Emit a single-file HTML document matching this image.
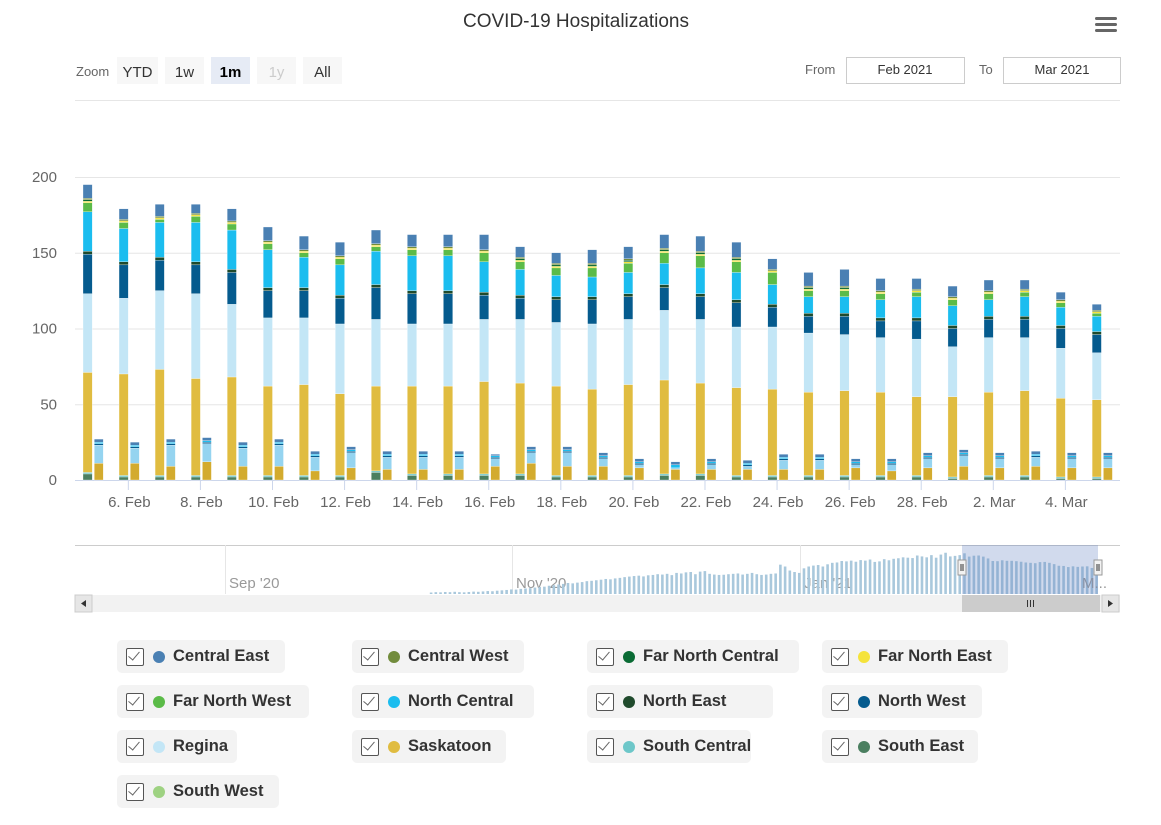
<!DOCTYPE html>
<html><head><meta charset="utf-8"><style>
body{margin:0;background:#fff;font-family:"Liberation Sans",sans-serif;}
#wrap{position:relative;width:1161px;height:825px;overflow:hidden;}
.leg{position:absolute;height:33px;background:#f3f3f3;border-radius:5px;display:flex;align-items:center;font-size:16.5px;color:#333;font-weight:bold;white-space:nowrap;}
.leg .cb{flex-shrink:0;width:16px;height:16px;border:1.5px solid #555;border-radius:2px;margin-left:9px;margin-right:9px;position:relative;background:#fff;}
.leg .cb:after{content:"";position:absolute;left:4px;top:0px;width:5px;height:10px;border-right:1.5px solid #666;border-bottom:1.5px solid #666;transform:rotate(40deg);}
.leg .dot{flex-shrink:0;width:12px;height:12px;border-radius:50%;margin-right:8px;}
.leg span{padding-right:10px;}
</style></head><body>
<div id="wrap">
<svg id="svg" width="1161" height="625" style="position:absolute;left:0;top:0">
<text x="576" y="27" text-anchor="middle" font-size="19" fill="#333">COVID-19 Hospitalizations</text>
<g><rect x="1095" y="17" width="22" height="3" rx="1.5" fill="#666"/><rect x="1095" y="23" width="22" height="3" rx="1.5" fill="#666"/><rect x="1095" y="29" width="22" height="3" rx="1.5" fill="#666"/></g>
<text x="76" y="76" font-size="13" fill="#666">Zoom</text>
<g><rect x="117" y="57" width="41" height="27" fill="#f7f7f7"/><text x="137.5" y="77" text-anchor="middle" font-size="15" fill="#333">YTD</text></g>
<g><rect x="165" y="57" width="39" height="27" fill="#f7f7f7"/><text x="184.5" y="77" text-anchor="middle" font-size="15" fill="#333">1w</text></g>
<g><rect x="211" y="57" width="39" height="27" fill="#e6ebf5"/><text x="230.5" y="77" text-anchor="middle" font-size="15" font-weight="bold" fill="#000">1m</text></g>
<g><rect x="257" y="57" width="39" height="27" fill="#f7f7f7"/><text x="276.5" y="77" text-anchor="middle" font-size="15" fill="#ccc">1y</text></g>
<g><rect x="303" y="57" width="39" height="27" fill="#f7f7f7"/><text x="322.5" y="77" text-anchor="middle" font-size="15" fill="#333">All</text></g>
<text x="805" y="74" font-size="13" fill="#666">From</text>
<g><rect x="846.5" y="57.5" width="118" height="26" fill="#fff" stroke="#ccc"/><text x="905" y="74" text-anchor="middle" font-size="13" fill="#333">Feb 2021</text></g>
<text x="979" y="74" font-size="13" fill="#666">To</text>
<g><rect x="1003.5" y="57.5" width="117" height="26" fill="#fff" stroke="#ccc"/><text x="1062" y="74" text-anchor="middle" font-size="13" fill="#333">Mar 2021</text></g>
<line x1="75" y1="100.5" x2="1120" y2="100.5" stroke="#e6e6e6"/>
<g id="grid"></g><g id="bars"></g><g id="xaxis"></g><g id="nav"></g>
</svg>
<div id="legend"></div>
</div>
<script>
const seriesNames=["Central East","Central West","Far North Central","Far North East","Far North West","North Central","North East","North West","Regina","Saskatoon","South Central","South East","South West"];
const seriesColors=["#4a80b3","#728c3c","#0a6b34","#f5e33b","#5bbb48","#1bbdef","#1f4a2c","#055b8e","#c3e6f6","#e0bc40","#6dc7c9","#4b7f60","#9ed282"];
const xTickLabels=["6. Feb","8. Feb","10. Feb","12. Feb","14. Feb","16. Feb","18. Feb","20. Feb","22. Feb","24. Feb","26. Feb","28. Feb","2. Mar","4. Mar"];
const yTicks=[0,50,100,150,200];
const swTall=[0,0,0,0,0,0,0,0,0,0,0,0,0,0,0,0,0,0,0,0,0,0,0,0,0,0,0,0,0];
const seTall=[4,2,2,2,2,2,2,2,5,3,3,3,3,2,2,2,3,3,2,2,2,2,2,2,1,2,2,1,1];
const scTall=[1,1,1,1,1,1,1,1,1,1,1,1,1,1,1,1,1,1,1,1,1,1,1,1,1,1,1,1,1];
const saskTall=[66,67,70,64,65,59,60,54,56,58,58,61,60,59,57,60,62,60,58,57,55,56,55,52,53,55,56,52,51];
const reginaTall=[52,50,52,56,48,45,44,46,44,41,41,41,42,42,43,43,46,42,40,41,39,37,36,38,33,36,35,33,31];
const nwTall=[26,22,20,19,21,18,18,17,21,20,20,16,14,15,16,15,15,15,16,13,11,12,11,12,12,12,12,13,12];
const neTall=[2,2,2,2,2,2,2,2,2,2,2,2,2,2,2,2,2,2,2,2,2,2,2,2,2,2,2,2,2];
const ncTall=[26,22,23,26,26,25,20,20,22,23,23,20,17,14,13,14,14,17,18,13,11,11,12,14,13,11,13,12,10];
const fnwTall=[6,4,2,4,4,4,3,4,3,4,4,6,5,5,6,6,7,8,7,8,4,4,4,3,4,4,3,3,2];
const fneTall=[1,1,1,1,1,1,1,1,1,1,1,1,1,1,1,1,1,1,1,1,1,1,1,1,1,1,1,1,1];
const fncTall=[1,0,0,0,0,0,0,0,0,0,0,0,1,1,1,1,1,1,1,0,1,1,0,0,0,0,0,0,0];
const cwTall=[1,1,1,1,1,1,1,1,1,1,1,1,1,1,1,1,1,1,1,1,1,1,1,1,1,1,1,1,1];
const ceTall=[9,7,8,6,8,9,9,9,9,8,8,10,7,7,9,8,9,10,10,7,9,11,8,7,7,7,6,5,4];
const saskIcu=[11,11,9,12,9,9,6,8,7,7,7,9,11,9,9,8,7,7,7,7,7,8,6,8,9,8,9,8,8];
const reginaIcu=[12,10,14,12,12,14,9,10,8,8,8,5,7,9,5,2,1,3,2,6,6,2,4,6,7,6,6,6,6];
const nwIcu=[1,1,1,1,1,1,1,1,1,1,1,1,1,1,1,1,0,1,1,1,1,1,1,1,1,1,1,1,1];
const ncIcu=[1,1,1,1,1,1,1,1,1,1,1,1,1,1,1,1,2,1,1,1,1,1,1,1,1,1,1,1,1];
const ceIcu=[2,2,2,2,2,2,2,2,2,2,2,1,2,2,2,2,2,2,2,2,2,2,2,2,2,2,2,2,2];
const navValues=[8,10,9,11,10,12,10,9,11,13,12,14,16,15,18,20,22,
25,24,28,30,32,35,38,40,45,48,52,55,60,58,62,65,70,72,75,78,82,80,85,88,92,95,98,100,96,102,
104,108,106,110,103,115,112,118,120,108,122,125,110,106,104,105,108,110,112,106,110,115,108,104,106,110,112,160,150,128,120,
115,140,150,155,158,150,162,170,172,180,178,182,176,185,182,188,175,178,190,184,192,195,200,198,196,210,205,200,212,198,215,
225,205,208,212];
const navLabels=["Sep '20","Nov '20","Jan '21","M..."];

const NS="http://www.w3.org/2000/svg";
function mk(tag,attrs,parent){const e=document.createElementNS(NS,tag);for(const k in attrs)e.setAttribute(k,attrs[k]);parent.appendChild(e);return e;}
const y0=480, pxPer=1.515;
const yScale=v=>y0-v*pxPer;
const xCenter=i=>92.3+i*36.04;
const grid=document.getElementById('grid');
yTicks.forEach(t=>{
  const l=mk('line',{x1:75,x2:1120,y1:yScale(t)+0.5,y2:yScale(t)+0.5,stroke:t===0?'#ccd6eb':'#e6e6e6'},grid);
  
  
  const tx=mk('text',{x:57,y:yScale(t)+5,'text-anchor':'end','font-size':15,fill:'#666'},grid);
  tx.textContent=t;
  
  
});
const tallSeries=[swTall,seTall,scTall,saskTall,reginaTall,nwTall,neTall,ncTall,fnwTall,fneTall,fncTall,cwTall,ceTall];
const tallIdx=[12,11,10,9,8,7,6,5,4,3,2,1,0];
const icuSeries=[saskIcu,reginaIcu,nwIcu,ncIcu,ceIcu];
const icuIdx=[9,8,7,5,0];
const bars=document.getElementById('bars');
for(let i=0;i<29;i++){
  const c=xCenter(i);
  let acc=0;
  tallSeries.forEach((s,k)=>{const v=s[i];if(v<=0)return;
    const r=mk('rect',{x:c-9.3,width:9.3,y:yScale(acc+v),height:v*pxPer,fill:seriesColors[tallIdx[k]],stroke:'#fff','stroke-width':0.3},bars);
    
    
    acc+=v;});
  acc=0;
  icuSeries.forEach((s,k)=>{const v=s[i];if(v<=0)return;
    const col=icuIdx[k]===8?'#95d4f0':icuIdx[k]===9?'#d3ab2e':seriesColors[icuIdx[k]];
    const r=mk('rect',{x:c+2,width:9,y:yScale(acc+v),height:v*pxPer,fill:col,stroke:'#fff','stroke-width':0.3},bars);
    
    
    acc+=v;});
}
const xa=document.getElementById('xaxis');
xTickLabels.forEach((lab,j)=>{const x=xCenter(1+2*j);
  const t=mk('line',{x1:x,x2:x,y1:480,y2:490,stroke:'#ccd6eb'},xa);
  
  
  const tx=mk('text',{x:x+1,y:507,'text-anchor':'middle','font-size':15,fill:'#666'},xa);
  tx.textContent=lab;
  
  
});
const nav=document.getElementById('nav');
const navTop=545,navBot=594,navScale=44/240;
const navX=i=>962+(i-112.5)*4.72;
const navFrame=mk('rect',{x:75,y:navTop,width:1045,height:navBot-navTop,fill:'#fff'},nav);


mk('line',{x1:75,x2:1120,y1:545.5,y2:545.5,stroke:'#cccccc'},nav);
[225,512,800].forEach((x,j)=>{mk('line',{x1:x+0.5,x2:x+0.5,y1:545,y2:594,stroke:'#e6e6e6'},nav);
  const tx=mk('text',{x:x+4,y:588,'font-size':15,fill:'#999'},nav);tx.textContent=navLabels[j];
  
  });
const allNav=navValues.slice();
for(let i=0;i<29;i++){let s=0;tallSeries.forEach(a=>s+=a[i]);icuSeries.forEach(a=>s+=a[i]);allNav.push(s);}
allNav.forEach((v,i)=>{const h=v*navScale;const r=mk('rect',{x:navX(i)-1.2,width:2.6,y:navBot-h,height:h,fill:'#a9c8dc'},nav);
  
  });
const lab4=mk('text',{x:1082,y:588,'font-size':15,fill:'#999'},nav);lab4.textContent=navLabels[3];


const mask=mk('rect',{x:962,y:545,width:136,height:49,fill:'rgba(102,133,194,0.3)'},nav);


[962,1098].forEach(x=>{const g=mk('g',{},nav);
  
  
  mk('rect',{x:x-4,y:560,width:8,height:15,fill:'#f2f2f2',stroke:'#999'},g);
  mk('line',{x1:x-1,x2:x-1,y1:564,y2:571,stroke:'#333'},g);mk('line',{x1:x+1,x2:x+1,y1:564,y2:571,stroke:'#333'},g);});
const sb=mk('rect',{x:75,y:595,width:1045,height:17,fill:'#f2f2f2'},nav);


const th=mk('rect',{x:962,y:595,width:138,height:17,fill:'#cccccc'},nav);


[1027,1030,1033].forEach(x=>mk('line',{x1:x+0.5,x2:x+0.5,y1:600,y2:607,stroke:'#333'},nav));
const lb=mk('rect',{x:75,y:595,width:17,height:17,fill:'#e6e6e6',stroke:'#ccc'},nav);


mk('path',{d:'M86 600 L81 603.5 L86 607 Z',fill:'#333'},nav);
const rb=mk('rect',{x:1102,y:595,width:17,height:17,fill:'#e6e6e6',stroke:'#ccc'},nav);


mk('path',{d:'M1108 600 L1113 603.5 L1108 607 Z',fill:'#333'},nav);
const legW=[168,172,212,186,192,182,186,160,120,154,164,156,162];
const leg=document.getElementById('legend');
seriesNames.forEach((n,i)=>{const col=i%4,row=Math.floor(i/4);
  const d=document.createElement('div');d.className='leg';
  d.style.left=(117+col*235)+'px';d.style.top=(640+row*45)+'px';d.style.width=legW[i]+'px';
  d.innerHTML='<div class="cb"></div><div class="dot" style="background:'+seriesColors[i]+'"></div><span>'+n+'</span>';
  
  
  leg.appendChild(d);});
</script>
</body></html>
